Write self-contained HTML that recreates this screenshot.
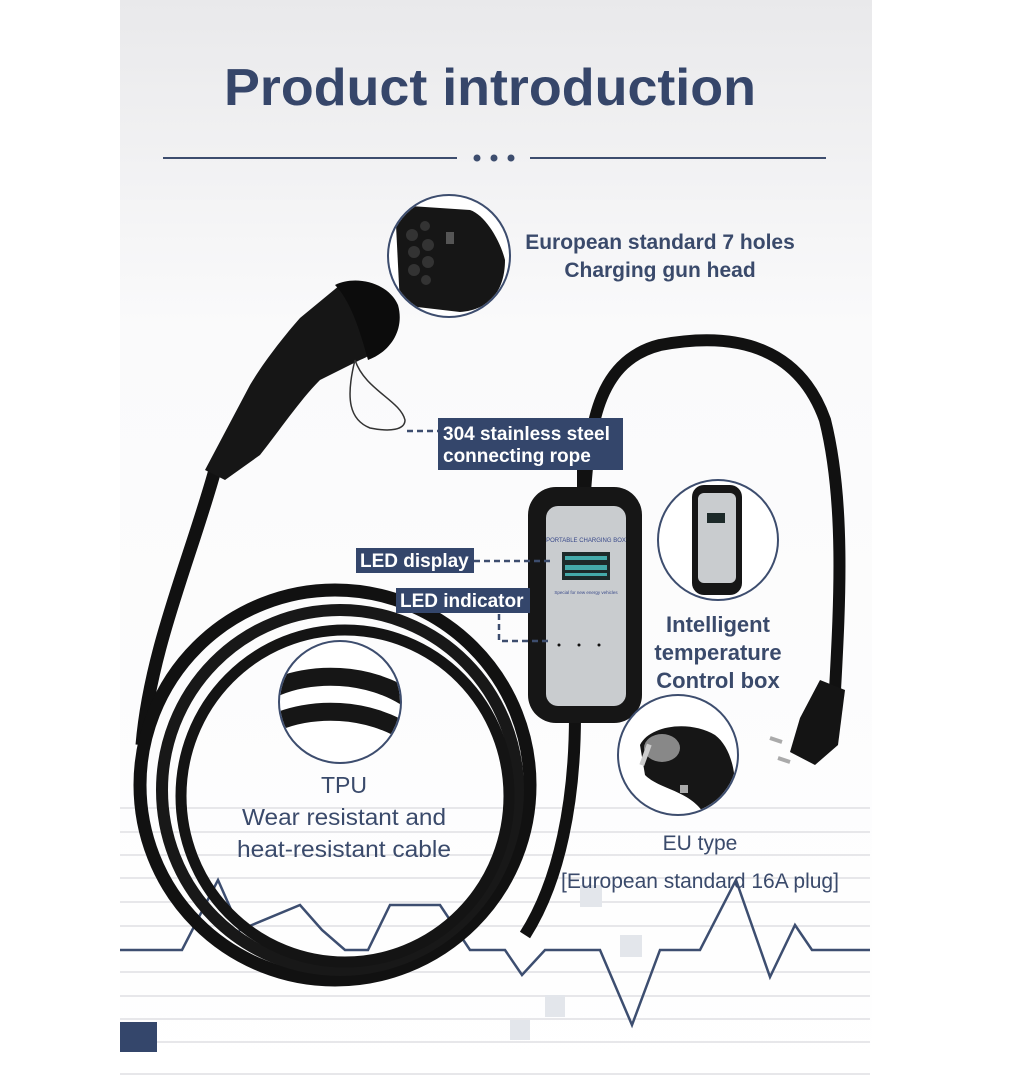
<!DOCTYPE html>
<html><head><meta charset="utf-8"><style>
html,body{margin:0;padding:0;background:#fff;}
svg{display:block}
text{font-family:"Liberation Sans","DejaVu Sans",sans-serif;}
</style></head><body>
<svg width="1036" height="1090" viewBox="0 0 1036 1090" xmlns="http://www.w3.org/2000/svg">
<defs>
<linearGradient id="bg" x1="0" y1="0" x2="0" y2="1">
<stop offset="0" stop-color="#e9e9eb"/><stop offset="0.3" stop-color="#fafafb"/><stop offset="1" stop-color="#ffffff"/>
</linearGradient>
<clipPath id="c1"><circle cx="449" cy="256" r="60"/></clipPath>
<clipPath id="c2"><circle cx="718" cy="540" r="59"/></clipPath>
<clipPath id="c3"><circle cx="678" cy="755" r="59"/></clipPath>
<clipPath id="c4"><circle cx="340" cy="702" r="60"/></clipPath>
</defs>
<rect x="0" y="0" width="1036" height="1090" fill="#fff"/>
<rect x="120" y="0" width="752" height="1090" fill="url(#bg)"/>
<g stroke="#e7e7ea" stroke-width="2">
<line x1="120" x2="870" y1="808" y2="808"/><line x1="120" x2="870" y1="832" y2="832"/>
<line x1="120" x2="870" y1="855" y2="855"/><line x1="120" x2="870" y1="878" y2="878"/>
<line x1="120" x2="870" y1="902" y2="902"/><line x1="120" x2="870" y1="926" y2="926"/>
<line x1="120" x2="870" y1="972" y2="972"/><line x1="120" x2="870" y1="996" y2="996"/>
<line x1="120" x2="870" y1="1019" y2="1019"/><line x1="120" x2="870" y1="1042" y2="1042"/>
<line x1="120" x2="870" y1="1074" y2="1074"/>
</g>
<g fill="#e3e6eb">
<rect x="580" y="885" width="22" height="22"/><rect x="545" y="995" width="20" height="22"/>
<rect x="620" y="935" width="22" height="22"/><rect x="510" y="1020" width="20" height="20"/>
</g>
<rect x="120" y="1022" width="37" height="30" fill="#34466b"/>
<polyline fill="none" stroke="#3d4e70" stroke-width="2.5" points="120,950 182,950 218,880 240,930 300,905 322,930 345,950 368,950 390,905 440,905 470,950 505,950 522,975 545,950 600,950 632,1025 660,950 700,950 736,880 770,977 795,925 812,950 870,950"/>
<text x="490" y="105" text-anchor="middle" font-size="52" font-weight="bold" fill="#36466a" textLength="532" lengthAdjust="spacingAndGlyphs">Product introduction</text>
<g stroke="#3d4d6e" stroke-width="2"><line x1="163" y1="158" x2="457" y2="158"/><line x1="530" y1="158" x2="826" y2="158"/></g>
<g fill="#3d4d6e"><circle cx="477" cy="158" r="3.5"/><circle cx="494" cy="158" r="3.5"/><circle cx="511" cy="158" r="3.5"/></g>
<!-- right cable -->
<path d="M585,492 C590,420 600,360 660,345 C740,330 800,350 825,420 C845,500 840,600 835,690" fill="none" stroke="#111" stroke-width="12"/>
<path d="M820,680 L845,690 L838,745 L815,765 L790,752 L800,718 Z" fill="#141414"/>
<line x1="782" y1="742" x2="770" y2="738" stroke="#aaa" stroke-width="4"/>
<line x1="790" y1="762" x2="778" y2="758" stroke="#aaa" stroke-width="4"/>
<!-- coil -->
<path d="M215,470 C190,560 150,650 142,745" fill="none" stroke="#111" stroke-width="13"/>
<ellipse cx="335" cy="785" rx="195" ry="195" fill="none" stroke="#111" stroke-width="13"/>
<ellipse cx="340" cy="790" rx="178" ry="180" fill="none" stroke="#181818" stroke-width="12"/>
<ellipse cx="345" cy="796" rx="164" ry="166" fill="none" stroke="#141414" stroke-width="11"/>
<path d="M575,715 C575,800 560,880 525,935" fill="none" stroke="#111" stroke-width="12"/>
<!-- gun -->
<path d="M205,470 L250,385 C265,360 285,335 300,318 L340,285 C360,278 385,285 395,305 C400,330 380,352 360,360 L320,380 C300,400 280,430 260,455 L225,480 Z" fill="#161616"/>
<path d="M335,285 C355,275 388,282 398,305 C405,330 390,352 368,360 C360,330 350,300 335,285 Z" fill="#0c0c0c"/>
<path d="M355,360 C365,390 400,400 405,420 C405,430 390,432 370,428 C350,420 345,400 355,360" fill="none" stroke="#333" stroke-width="1.5"/>
<line x1="407" y1="431" x2="438" y2="431" stroke="#3d4d6e" stroke-width="2.5" stroke-dasharray="6,4"/>
<rect x="438" y="418" width="185" height="52" fill="#34466b"/>
<text x="443" y="440" font-size="19" font-weight="bold" fill="#fff">304 stainless steel</text>
<text x="443" y="462" font-size="19" font-weight="bold" fill="#fff">connecting rope</text>
<!-- control box -->
<line x1="583" y1="470" x2="583" y2="495" stroke="#111" stroke-width="12"/>
<rect x="528" y="487" width="114" height="236" rx="28" fill="#161616"/>
<rect x="546" y="506" width="80" height="200" rx="12" fill="#c9cccf"/>
<text x="586" y="542" text-anchor="middle" font-size="6" fill="#3a4a8a">PORTABLE CHARGING BOX</text>
<rect x="562" y="552" width="48" height="28" fill="#1d2a2a"/>
<rect x="565" y="556" width="42" height="4" fill="#4aa"/><rect x="565" y="565" width="42" height="5" fill="#4aa"/><rect x="565" y="573" width="42" height="3" fill="#4aa"/>
<text x="586" y="594" text-anchor="middle" font-size="4.5" fill="#3a4a8a">Special for new energy vehicles</text>
<g fill="#111"><circle cx="559" cy="645" r="1.5"/><circle cx="579" cy="645" r="1.5"/><circle cx="599" cy="645" r="1.5"/></g>
<rect x="356" y="548" width="118" height="25" fill="#34466b"/>
<text x="360" y="567" font-size="19" font-weight="bold" fill="#fff">LED display</text>
<line x1="474" y1="561" x2="550" y2="561" stroke="#3d4d6e" stroke-width="2.5" stroke-dasharray="6,4"/>
<rect x="396" y="588" width="134" height="25" fill="#34466b"/>
<text x="400" y="607" font-size="19" font-weight="bold" fill="#fff">LED indicator</text>
<polyline points="499,614 499,641 550,641" fill="none" stroke="#3d4d6e" stroke-width="2.5" stroke-dasharray="6,4"/>
<!-- circle 1 -->
<g clip-path="url(#c1)"><rect x="380" y="190" width="140" height="140" fill="#fff"/>
<path d="M395,205 L470,210 C485,215 500,240 505,260 C505,290 490,310 460,312 L400,305 Z" fill="#161616"/>
<g fill="#333"><circle cx="412" cy="235" r="6"/><circle cx="414" cy="252" r="6"/><circle cx="414" cy="270" r="6"/><circle cx="428" cy="245" r="6"/><circle cx="428" cy="262" r="6"/><circle cx="425" cy="226" r="5"/><circle cx="426" cy="280" r="5"/></g>
<rect x="446" y="232" width="8" height="12" fill="#555"/></g>
<circle cx="449" cy="256" r="61" fill="none" stroke="#3d4d6e" stroke-width="2"/>
<text x="660" y="249" text-anchor="middle" font-size="21" font-weight="bold" fill="#3a4a6b">European standard 7 holes</text>
<text x="660" y="277" text-anchor="middle" font-size="21" font-weight="bold" fill="#3a4a6b">Charging gun head</text>
<!-- circle 2 -->
<g clip-path="url(#c2)"><rect x="655" y="478" width="130" height="130" fill="#fff"/>
<rect x="692" y="485" width="50" height="110" rx="12" fill="#161616"/>
<rect x="698" y="493" width="38" height="90" rx="6" fill="#c9cccf"/>
<rect x="707" y="513" width="18" height="10" fill="#1d2a2a"/></g>
<circle cx="718" cy="540" r="60" fill="none" stroke="#3d4d6e" stroke-width="2"/>
<text x="718" y="632" text-anchor="middle" font-size="22" font-weight="bold" fill="#3a4a6b">Intelligent</text>
<text x="718" y="660" text-anchor="middle" font-size="22" font-weight="bold" fill="#3a4a6b">temperature</text>
<text x="718" y="688" text-anchor="middle" font-size="22" font-weight="bold" fill="#3a4a6b">Control box</text>
<!-- circle 3 -->
<g clip-path="url(#c3)"><rect x="615" y="695" width="130" height="130" fill="#fff"/>
<path d="M640,745 C650,725 690,720 715,735 C735,750 740,790 730,815 L705,815 C690,790 660,790 645,775 Z" fill="#161616"/>
<ellipse cx="662" cy="748" rx="18" ry="14" fill="#888"/>
<rect x="635" y="752" width="22" height="5" fill="#ccc" transform="rotate(-70 646 755)"/>
<rect x="680" y="785" width="8" height="8" fill="#aaa"/></g>
<circle cx="678" cy="755" r="60" fill="none" stroke="#3d4d6e" stroke-width="2"/>
<text x="700" y="850" text-anchor="middle" font-size="21" fill="#3a4a6b">EU type</text>
<text x="700" y="888" text-anchor="middle" font-size="21" fill="#3a4a6b">[European standard 16A plug]</text>
<!-- circle 4 -->
<g clip-path="url(#c4)"><rect x="275" y="640" width="130" height="130" fill="#fff"/>
<path d="M270,690 C310,670 370,672 410,700" fill="none" stroke="#161616" stroke-width="18"/>
<path d="M270,725 C310,705 370,707 410,735" fill="none" stroke="#161616" stroke-width="18"/></g>
<circle cx="340" cy="702" r="61" fill="none" stroke="#3d4d6e" stroke-width="2"/>
<text x="344" y="793" text-anchor="middle" font-size="23" fill="#3a4a6b">TPU</text>
<text x="344" y="825" text-anchor="middle" font-size="23" fill="#3a4a6b" textLength="204" lengthAdjust="spacingAndGlyphs">Wear resistant and</text>
<text x="344" y="857" text-anchor="middle" font-size="23" fill="#3a4a6b" textLength="214" lengthAdjust="spacingAndGlyphs">heat-resistant cable</text>
</svg>
</body></html>
